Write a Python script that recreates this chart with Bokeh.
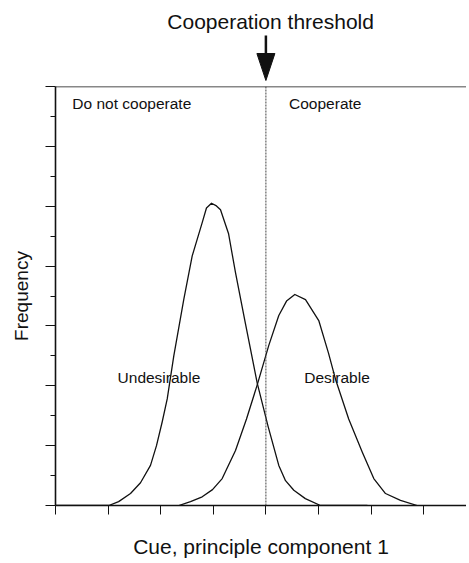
from bokeh.plotting import figure
from bokeh.layouts import column
from bokeh.models import Range1d, FixedTicker, Span
from bokeh.core.properties import value
from bokeh.embed import file_html
from bokeh.resources import INLINE

# ---- data ----
undesirable_x = [0.0, 1.013, 1.2, 1.426, 1.616, 1.806, 1.92, 2.028, 2.124, 2.249, 2.439,
                 2.599, 2.789, 2.87, 2.966, 3.06, 3.137, 3.289, 3.422, 3.612, 3.835,
                 4.044, 4.245, 4.373, 4.531, 4.75, 5.038, 5.93]
undesirable_y = [0.0, 0.0, 0.13, 0.40, 0.76, 1.34, 2.0, 2.79, 3.56, 5.0, 6.89,
                 8.34, 9.45, 9.94, 10.10, 10.01, 9.88, 9.09, 7.78, 6.07, 4.09,
                 2.63, 1.34, 0.83, 0.51, 0.23, 0.0, 0.0]
desirable_x = [2.344, 2.567, 2.789, 2.985, 3.169, 3.422, 3.631, 3.835, 4.055, 4.245,
               4.392, 4.55, 4.753, 5.005, 5.19, 5.323, 5.574, 5.831, 6.051, 6.274,
               6.559, 6.876]
desirable_y = [0.0, 0.13, 0.29, 0.53, 0.90, 1.84, 2.89, 4.03, 5.35, 6.35,
               6.83, 7.05, 6.88, 6.18, 5.09, 4.22, 2.89, 1.79, 0.90, 0.40,
               0.17, 0.0]
threshold = 4.0
x_ticks = [0, 1, 2, 3, 4, 5, 6, 7]
y_major_ticks = [0, 2, 4, 6, 8, 10, 12, 14]
y_minor_ticks = [1, 3, 5, 7, 9, 11, 13]

FONT = value("Liberation Sans")

W = 466
LEFT = 55
PX_PER_X = 52.6

# ---- top strip: title + arrow ----
t = figure(width=W, height=84, x_range=Range1d(0, (W - LEFT) / PX_PER_X), y_range=Range1d(0, 84),
           toolbar_location=None, output_backend="svg",
           min_border_left=LEFT, min_border_right=0, min_border_top=0, min_border_bottom=0)
t.axis.visible = False
t.grid.visible = False
t.outline_line_color = None
t.text(x=[threshold + 0.09], y=[63], text=["Cooperation threshold"], text_font=FONT,
       text_font_size="21px", text_align="center", text_baseline="alphabetic", text_color="#111")
t.segment(x0=[threshold], y0=[49], x1=[threshold], y1=[29], line_width=2.5, line_color="#111")
hw = 9 / PX_PER_X
t.patch(x=[threshold - hw, threshold + hw, threshold], y=[31, 31, 4],
        fill_color="#111", line_color="#111", line_width=1)

# ---- main plot ----
p = figure(width=W, height=476, x_range=t.x_range, y_range=Range1d(0, 14),
           toolbar_location=None, output_backend="svg",
           min_border_left=LEFT, min_border_right=0, min_border_top=2, min_border_bottom=53)
p.grid.visible = False
p.outline_line_color = None

p.xaxis.ticker = FixedTicker(ticks=x_ticks)
p.xaxis.major_label_overrides = {v: "" for v in x_ticks}
p.xaxis.major_tick_out = 9
p.xaxis.major_tick_in = 0
p.xaxis.major_label_standoff = 0
p.xaxis.axis_label = "Cue, principle component 1"
p.xaxis.axis_label_text_font = "Liberation Sans"
p.xaxis.axis_label_text_font_size = "21px"
p.xaxis.axis_label_text_font_style = "normal"
p.xaxis.axis_label_text_color = "#111"
p.xaxis.axis_label_standoff = 20

p.yaxis.ticker = FixedTicker(ticks=y_major_ticks, minor_ticks=y_minor_ticks)
p.yaxis.major_label_overrides = {v: "" for v in y_major_ticks}
p.yaxis.major_tick_out = 10
p.yaxis.major_tick_in = 0
p.yaxis.minor_tick_out = 5
p.yaxis.minor_tick_in = 0
p.yaxis.major_label_standoff = 0
p.yaxis.axis_label = "Frequency"
p.yaxis.axis_label_text_font = "Liberation Sans"
p.yaxis.axis_label_text_font_size = "19px"
p.yaxis.axis_label_text_font_style = "normal"
p.yaxis.axis_label_text_color = "#111"
p.yaxis.axis_label_standoff = 14

for ax in (p.xaxis, p.yaxis):
    ax.axis_line_width = 1.6
    ax.axis_line_color = "#111"
    ax.major_tick_line_color = "#111"
    ax.minor_tick_line_color = "#111"
p.xaxis.minor_tick_line_color = None

p.add_layout(Span(location=14, dimension="width", line_color="#111", line_width=1.4))
p.add_layout(Span(location=threshold, dimension="height", line_color="#444",
                  line_width=1, line_dash="2 1"))

p.line(undesirable_x, undesirable_y, line_color="#111", line_width=1.3, line_join="round")
p.line(desirable_x, desirable_y, line_color="#111", line_width=1.3, line_join="round")

labels = ["Do not cooperate", "Cooperate", "Undesirable", "Desirable"]
label_x = [0.32, 4.44, 1.18, 4.73]
label_y = [13.44, 13.44, 4.28, 4.28]
p.text(x=label_x, y=label_y, text=labels, text_font=FONT, text_font_size="15.5px",
       text_align="left", text_baseline="alphabetic", text_color="#111")

layout = column(t, p, spacing=0)
open("out.html", "w").write(file_html(layout, INLINE))
